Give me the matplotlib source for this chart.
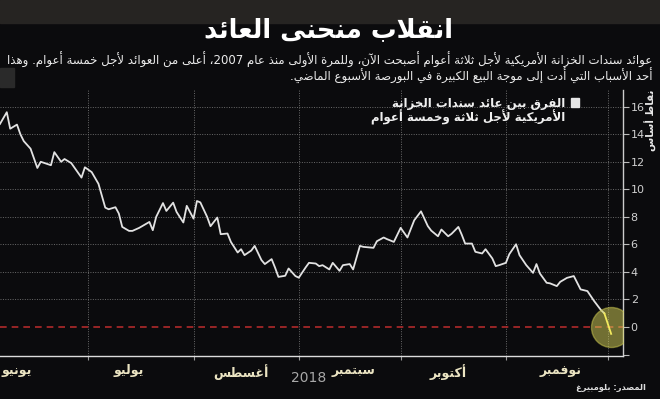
import re
import pandas as pd
import matplotlib
matplotlib.use("Agg")
import matplotlib.pyplot as plt
from matplotlib.patches import Rectangle

# spread between 3-year and 5-year US treasury yields, basis points
dates = [
    "2018-06-05", "2018-06-07", "2018-06-08", "2018-06-10", "2018-06-11", "2018-06-12",
    "2018-06-14", "2018-06-16", "2018-06-17", "2018-06-20", "2018-06-21", "2018-06-23",
    "2018-06-24", "2018-06-26", "2018-06-29", "2018-06-30", "2018-07-02", "2018-07-04",
    "2018-07-06", "2018-07-07", "2018-07-09", "2018-07-10", "2018-07-11", "2018-07-13",
    "2018-07-14", "2018-07-16", "2018-07-19", "2018-07-20", "2018-07-21", "2018-07-23",
    "2018-07-24", "2018-07-26", "2018-07-27", "2018-07-29", "2018-07-30", "2018-08-01",
    "2018-08-02", "2018-08-03", "2018-08-05", "2018-08-06", "2018-08-08", "2018-08-09",
    "2018-08-11", "2018-08-12", "2018-08-14", "2018-08-15", "2018-08-16", "2018-08-18",
    "2018-08-19", "2018-08-21", "2018-08-22", "2018-08-24", "2018-08-25", "2018-08-26",
    "2018-08-28", "2018-08-29", "2018-08-31", "2018-09-01", "2018-09-03", "2018-09-04",
    "2018-09-06", "2018-09-07", "2018-09-08", "2018-09-10", "2018-09-11", "2018-09-13",
    "2018-09-14", "2018-09-16", "2018-09-17", "2018-09-19", "2018-09-20", "2018-09-23",
    "2018-09-24", "2018-09-26", "2018-09-27", "2018-09-29", "2018-10-01", "2018-10-03",
    "2018-10-05", "2018-10-07", "2018-10-09", "2018-10-10", "2018-10-12", "2018-10-13",
    "2018-10-15", "2018-10-16", "2018-10-18", "2018-10-19", "2018-10-20", "2018-10-22",
    "2018-10-23", "2018-10-25", "2018-10-26", "2018-10-28", "2018-10-29", "2018-10-30",
    "2018-11-01", "2018-11-02", "2018-11-04", "2018-11-05", "2018-11-07", "2018-11-09",
    "2018-11-10", "2018-11-11", "2018-11-13", "2018-11-14", "2018-11-16", "2018-11-17",
    "2018-11-19", "2018-11-21", "2018-11-23", "2018-11-25", "2018-11-27", "2018-11-29",
    "2018-11-30", "2018-12-02",
]
spread = [
    14.75, 15.6, 14.4, 14.7, 14.0, 13.5,
    12.95, 11.55, 12.0, 11.75, 12.7, 12.0,
    12.2, 11.9, 10.85, 11.6, 11.25, 10.4,
    8.67, 8.55, 8.7, 8.24, 7.27, 6.98,
    6.98, 7.2, 7.63, 7.03, 8.0, 9.0,
    8.43, 9.03, 8.36, 7.59, 8.8, 7.87,
    9.15, 9.05, 8.0, 7.32, 7.95, 6.74,
    6.79, 6.18, 5.41, 5.65, 5.22, 5.55,
    5.89, 4.86, 4.57, 4.93, 4.32, 3.64,
    3.72, 4.25, 3.70, 3.58, 4.32, 4.66,
    4.61, 4.42, 4.49, 4.18, 4.66, 4.08,
    4.49, 4.57, 4.18, 5.89, 5.82, 5.75,
    6.23, 6.5, 6.38, 6.18, 7.2, 6.5,
    7.75, 8.4, 7.33, 7.0, 6.59, 7.08,
    6.59, 6.77, 7.27, 6.7, 6.06, 6.06,
    5.46, 5.34, 5.65, 4.98, 4.42, 4.49,
    4.66, 5.29, 6.01, 5.22, 4.49, 3.93,
    4.57, 3.89, 3.21, 3.17, 2.97, 3.28,
    3.57, 3.70, 2.73, 2.61, 1.88, 1.23,
    0.99, -0.5,
]

month_starts = ["2018-07-01", "2018-08-01", "2018-09-01", "2018-10-01", "2018-11-01", "2018-12-01"]
month_label_dates = ["2018-06-10", "2018-07-13", "2018-08-15", "2018-09-17", "2018-10-15", "2018-11-17"]
month_labels = ["يونيو", "يوليو", "أغسطس", "سبتمبر", "أكتوبر", "نوفمبر"]
y_ticks = [0, 2, 4, 6, 8, 10, 12, 14, 16]

title = "انقلاب منحنى العائد"
subtitle = [
    "عوائد سندات الخزانة الأمريكية لأجل ثلاثة أعوام أصبحت الآن، وللمرة الأولى منذ عام 2007، أعلى من العوائد لأجل خمسة أعوام. وهذا",
    "أحد الأسباب التي أدت إلى موجة البيع الكبيرة في البورصة الأسبوع الماضي.",
]
legend_lines = ["الفرق بين عائد سندات الخزانة", "الأمريكية لأجل ثلاثة وخمسة أعوام"]
y_label = "نقاط أساس"
source = "المصدر: بلومبيرغ"

# --- minimal arabic shaping + right-to-left ordering (matplotlib has neither)
_forms = [("ء", 0xFE80, 1), ("آ", 0xFE81, 2), ("أ", 0xFE83, 2), ("ؤ", 0xFE85, 2),
          ("إ", 0xFE87, 2), ("ئ", 0xFE89, 4), ("ا", 0xFE8D, 2), ("ب", 0xFE8F, 4),
          ("ة", 0xFE93, 2), ("ت", 0xFE95, 4), ("ث", 0xFE99, 4), ("ج", 0xFE9D, 4),
          ("ح", 0xFEA1, 4), ("خ", 0xFEA5, 4), ("د", 0xFEA9, 2), ("ذ", 0xFEAB, 2),
          ("ر", 0xFEAD, 2), ("ز", 0xFEAF, 2), ("س", 0xFEB1, 4), ("ش", 0xFEB5, 4),
          ("ص", 0xFEB9, 4), ("ض", 0xFEBD, 4), ("ط", 0xFEC1, 4), ("ظ", 0xFEC5, 4),
          ("ع", 0xFEC9, 4), ("غ", 0xFECD, 4), ("ف", 0xFED1, 4), ("ق", 0xFED5, 4),
          ("ك", 0xFED9, 4), ("ل", 0xFEDD, 4), ("م", 0xFEE1, 4), ("ن", 0xFEE5, 4),
          ("ه", 0xFEE9, 4), ("و", 0xFEED, 2), ("ى", 0xFEEF, 2), ("ي", 0xFEF1, 4)]
FORMS = {c: (start, n) for c, start, n in _forms}
LAMALEF = {"آ": 0xFEF5, "أ": 0xFEF7, "إ": 0xFEF9, "ا": 0xFEFB}


def ar(text):
    items = []
    i = 0
    while i < len(text):
        c = text[i]
        if c == "ل" and i + 1 < len(text) and text[i + 1] in LAMALEF:
            items.append(("LA", text[i + 1]))
            i += 2
        else:
            items.append(("C", c))
            i += 1

    def joins_next(it):
        return it is not None and it[0] == "C" and it[1] in FORMS and FORMS[it[1]][1] == 4

    def joins_prev(it):
        if it is None:
            return False
        if it[0] == "LA":
            return True
        return it[1] in FORMS and FORMS[it[1]][1] >= 2

    out = []
    for k, it in enumerate(items):
        prev = items[k - 1] if k > 0 else None
        nxt = items[k + 1] if k + 1 < len(items) else None
        kind, c = it
        if kind == "LA":
            out.append(chr(LAMALEF[c] + (1 if joins_next(prev) else 0)))
        elif c in FORMS:
            start, n = FORMS[c]
            jp = n >= 2 and joins_next(prev)
            jn = n == 4 and joins_prev(nxt)
            idx = 3 if (jp and jn) else 1 if jp else 2 if jn else 0
            out.append(chr(start + idx))
        else:
            out.append(c)
    s = "".join(reversed(out))
    return re.sub(r"[0-9]+", lambda m: m.group()[::-1], s)


plt.rcParams["font.family"] = ["DejaVu Sans"]
bg = "#0b0b0d"

x = pd.to_datetime(dates)
fig = plt.figure(figsize=(6.6, 3.99), dpi=100, facecolor=bg)
ax = fig.add_axes([0.0, 0.108, 0.944, 0.666], facecolor=bg)

# header band and small block at left
fig.patches.append(Rectangle((0, 1 - 23 / 399), 1, 23 / 399, transform=fig.transFigure,
                             color="#262422", zorder=0))
fig.patches.append(Rectangle((0, 1 - 87 / 399), 14 / 660, 19 / 399, transform=fig.transFigure,
                             color="#2a2a2a", zorder=0))

for d in month_starts:
    ax.axvline(pd.Timestamp(d), color="#6a6a6a", lw=0.7, ls=(0, (1, 1.5)), zorder=1)
for v in y_ticks[1:]:
    ax.axhline(v, color="#6a6a6a", lw=0.7, ls=(0, (1, 1.5)), zorder=1)
ax.axhline(0, color="#b02a2a", lw=1.2, ls=(0, (4, 3)), zorder=2)

ax.plot(x[:-1], spread[:-1], color="#e2e2e2", lw=1.3, zorder=3)
ax.plot(x[-2:], spread[-2:], color="#f2ea5e", lw=1.3, zorder=5)
ax.scatter([x[-1]], [0], s=830, facecolor="#d8d45a", edgecolor="#d0cc50", lw=1,
           alpha=0.5, zorder=4)

ax.set_xlim(pd.Timestamp("2018-06-05"), pd.Timestamp("2018-12-05 12:00"))
ax.set_ylim(-2.1, 17.2)

ax.yaxis.tick_right()
ax.set_yticks([-2] + y_ticks)
ax.set_yticklabels([""] + [str(v) for v in y_ticks])
ax.tick_params(axis="y", direction="out", length=4, width=0.8, color="#bbbbbb",
               labelcolor="#d0d0d0", labelsize=8, pad=1.5)

ax.set_xticks(pd.to_datetime(month_starts))
ax.set_xticklabels([])
ax.set_xticks(pd.to_datetime(month_label_dates), minor=True)
ax.set_xticklabels([ar(m) for m in month_labels], minor=True)
ax.tick_params(axis="x", which="major", direction="out", length=3, width=0.8, color="#999999")
ax.tick_params(axis="x", which="minor", length=0, labelcolor="#ebe4c2", labelsize=9, pad=6)
for lbl in ax.get_xticklabels(minor=True):
    lbl.set_fontweight("bold")

for side in ["top", "left"]:
    ax.spines[side].set_visible(False)
ax.spines["bottom"].set_color("#dddddd")
ax.spines["right"].set_color("#cccccc")
ax.spines["bottom"].set_linewidth(1.0)
ax.spines["right"].set_linewidth(1.0)

# texts
fig.text(0.497, 1 - 30 / 399, ar(title), ha="center", va="center", color="white",
         fontsize=18.5, fontweight="bold")
fig.text(652 / 660, 1 - 60 / 399, ar(subtitle[0]), ha="right", va="center",
         color="#ececec", fontsize=8.5)
fig.text(652 / 660, 1 - 76 / 399, ar(subtitle[1]), ha="right", va="center",
         color="#ececec", fontsize=8.5)

fig.patches.append(Rectangle((571 / 660, 1 - 107 / 399), 8 / 660, 9 / 399,
                             transform=fig.transFigure, color="#e6e6e6", zorder=5))
fig.text(565 / 660, 1 - 103 / 399, ar(legend_lines[0]), ha="right", va="center",
         color="#f0f0f0", fontsize=8.5, fontweight="bold")
fig.text(565 / 660, 1 - 117 / 399, ar(legend_lines[1]), ha="right", va="center",
         color="#f0f0f0", fontsize=8.5, fontweight="bold")

fig.text(651 / 660, 1 - 120 / 399, ar(y_label), ha="center", va="center", rotation=90,
         color="#e8e8e8", fontsize=7.5, fontweight="bold")
fig.text(309 / 660, 1 - 378 / 399, "2018", ha="center", va="center", color="#a8a8a8",
         fontsize=10)
fig.text(646 / 660, 1 - 388 / 399, ar(source), ha="right", va="center", color="#dddddd",
         fontsize=6, fontweight="bold")

fig.savefig("out.png", dpi=100, facecolor=bg)
